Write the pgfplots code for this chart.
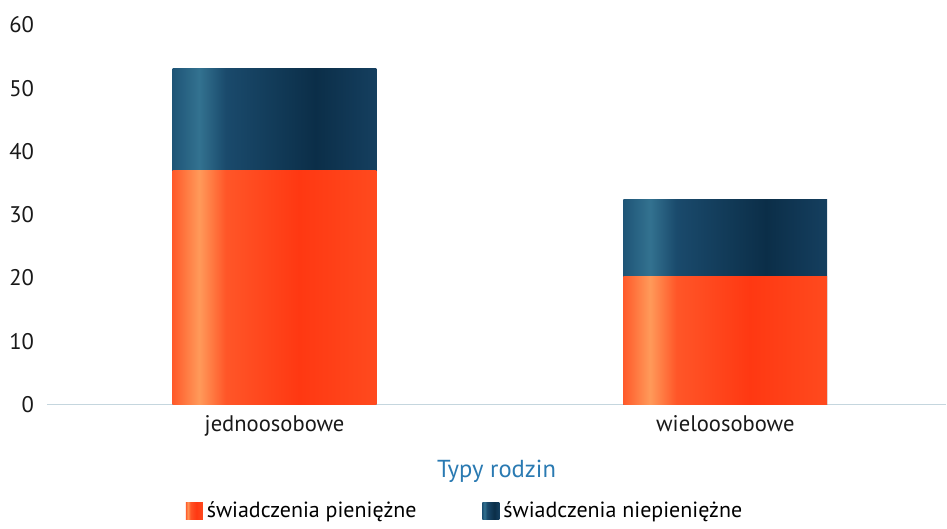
\documentclass[border=0pt]{standalone}
\usepackage{pgfplots}
\pgfplotsset{compat=1.18}
\usepackage{fontspec}
\setmainfont{PT Sans}
\definecolor{oa}{HTML}{FF5A2A}
\definecolor{ob}{HTML}{FF9A5A}
\definecolor{oc}{HTML}{FF5628}
\definecolor{od}{HTML}{FF3812}
\definecolor{oe}{HTML}{FF4A1E}
\definecolor{na}{HTML}{1F5577}
\definecolor{nb}{HTML}{337290}
\definecolor{nc}{HTML}{1A4A6C}
\definecolor{nd}{HTML}{0B2E48}
\definecolor{ne}{HTML}{153F5F}
\definecolor{xlab}{HTML}{2A7AB2}
\definecolor{axl}{HTML}{C5D6DE}
\pgfdeclarehorizontalshading{orangebar}{100bp}{color(0bp)=(oa); color(25bp)=(oa); color(31.5bp)=(ob); color(38bp)=(oc); color(56bp)=(od); color(75bp)=(oe); color(100bp)=(oe)}
\pgfdeclarehorizontalshading{navybar}{100bp}{color(0bp)=(na); color(25bp)=(na); color(31.5bp)=(nb); color(38bp)=(nc); color(60bp)=(nd); color(75bp)=(ne); color(100bp)=(ne)}
\begin{document}
\begin{tikzpicture}
\begin{axis}[
  name=ax,
  scale only axis,
  width=450pt, height=190pt,
  ymin=0, ymax=60,
  xmin=-0.505, xmax=1.49,
  ybar, bar shift=0pt,
  bar width=0.452,
  xtick={0,1},
  xticklabels={jednoosobowe, wieloosobowe},
  ytick={0,10,20,30,40,50,60},
  major tick length=0pt,
  axis x line*=bottom,
  axis y line*=left,
  y axis line style={draw=none},
  x axis line style={draw=axl, line width=0.8pt, -},
  ticklabel style={font=\fontsize{11.3}{13}\selectfont, text=black!90},
  xticklabel style={yshift=-2pt},
  yticklabel style={xshift=-3pt},
  /pgf/number format/assume math mode=true,
  xlabel={Typy rodzin},
  xlabel style={font=\fontsize{12.3}{14}\selectfont, text=xlab, yshift=-5pt},
  legend columns=2,
  legend style={draw=none, fill=none, at={(0.466,-0.28)}, anchor=center,
    font=\fontsize{11}{13}\selectfont, /tikz/every even column/.append style={column sep=31pt}},
  legend image code/.code={\path[#1] (0pt,-4.3pt) rectangle (8.5pt,4.3pt);},
  clip=false,
]
\addlegendimage{draw=none, shading=orangebar}
\addlegendentry{świadczenia pieniężne}
\addlegendimage{draw=none, shading=navybar}
\addlegendentry{świadczenia niepieniężne}
% totals (navy part on top of orange)
\addplot[draw=none, shading=navybar, forget plot] coordinates {(0,53.2)};
\addplot[draw=none, shading=navybar, forget plot] coordinates {(1,32.4)};
% cash benefits
\addplot[draw=none, shading=orangebar, forget plot] coordinates {(0,37)};
\addplot[draw=none, shading=orangebar, forget plot] coordinates {(1,20.3)};
\end{axis}
\path ([shift={(-23.5pt,-60pt)}]ax.south west) rectangle ([shift={(0pt,12.5pt)}]ax.north east);
\end{tikzpicture}
\end{document}
